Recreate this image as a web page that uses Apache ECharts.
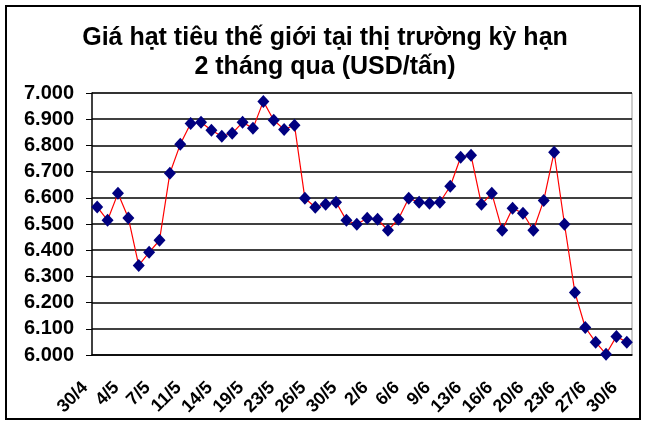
<!DOCTYPE html>
<html>
<head>
<meta charset="utf-8">
<script src="https://cdn.jsdelivr.net/npm/echarts@6/dist/echarts.min.js"></script>
<style>
  html, body { margin: 0; padding: 0; background: #fff; }
  #main { width: 650px; height: 430px; }
</style>
</head>
<body>
<div id="main"></div>
<script>
// ngày giao dịch (chỉ hiện 1/3 nhãn)
const days = [
  '30/4', '2/5', '3/5', '4/5', '5/5', '6/5', '7/5', '9/5', '10/5', '11/5',
  '12/5', '13/5', '14/5', '16/5', '17/5', '19/5', '20/5', '21/5', '23/5', '24/5',
  '25/5', '26/5', '27/5', '28/5', '30/5', '31/5', '1/6', '2/6', '3/6', '4/6',
  '6/6', '7/6', '8/6', '9/6', '10/6', '11/6', '13/6', '14/6', '15/6', '16/6',
  '17/6', '18/6', '20/6', '21/6', '22/6', '23/6', '24/6', '25/6', '27/6', '28/6',
  '29/6', '30/6'
];
// giá USD/tấn
const prices = [
  6565, 6514, 6617, 6523, 6342, 6392, 6438, 6694, 6804, 6884,
  6888, 6858, 6835, 6846, 6888, 6865, 6968, 6896, 6861, 6877,
  6598, 6564, 6575, 6583, 6514, 6499, 6522, 6518, 6476, 6518,
  6598, 6583, 6579, 6583, 6644, 6755, 6762, 6575, 6617, 6476,
  6560, 6541, 6476, 6590, 6774, 6499, 6239, 6105, 6049, 6003,
  6071, 6049
];
const yMin = 6000, yMax = 7000, yStep = 100;

const chart = echarts.init(document.getElementById('main'));
chart.setOption({
  animation: false,
  backgroundColor: '#fff',
  title: {
    text: 'Giá hạt tiêu thế giới tại thị trường kỳ hạn\n2 tháng qua (USD/tấn)',
    left: 'center',
    top: 19,
    textStyle: {
      fontFamily: 'Liberation Sans, Arial',
      fontSize: 25,
      fontWeight: 'bold',
      lineHeight: 29,
      color: '#000'
    }
  },
  graphic: [{
    type: 'rect',
    shape: { x: 6, y: 6, width: 634, height: 413 },
    style: { fill: 'none', stroke: '#000', lineWidth: 2 },
    silent: true
  }, {
    type: 'polyline',
    shape: { points: [[92, 93], [632, 93], [632, 355]] },
    style: { fill: 'none', stroke: '#999', lineWidth: 1 },
    silent: true
  }],
  grid: { left: 92, right: 18, top: 93, bottom: 75 },
  xAxis: {
    type: 'category',
    data: days,
    boundaryGap: true,
    axisLine: { lineStyle: { color: '#000', width: 1.5 } },
    axisTick: { interval: 0, length: 5, inside: false, lineStyle: { color: '#000' } },
    axisLabel: {
      interval: 2,
      rotate: 45,
      margin: 18,
      padding: [0, 17, 0, 0],
      fontFamily: 'Liberation Sans, Arial',
      fontSize: 18,
      fontWeight: 'bold',
      color: '#000'
    },
    splitLine: { show: false }
  },
  yAxis: {
    type: 'value',
    min: yMin,
    max: yMax,
    interval: yStep,
    axisLine: { show: true, lineStyle: { color: '#000', width: 1.5 } },
    axisTick: { show: true, length: 6, lineStyle: { color: '#000' } },
    axisLabel: {
      margin: 18,
      fontFamily: 'Liberation Sans, Arial',
      fontSize: 20,
      fontWeight: 'bold',
      color: '#000',
      formatter: v => (v / 1000).toFixed(3)
    },
    splitLine: { lineStyle: { color: '#000', width: 1.5 } }
  },
  series: [{
    type: 'line',
    data: prices,
    showAllSymbol: true,
    symbol: 'diamond',
    symbolSize: [12, 13],
    itemStyle: { color: '#000080' },
    lineStyle: { color: '#ff0000', width: 1.2 },
    z: 3
  }]
});
</script>
</body>
</html>
